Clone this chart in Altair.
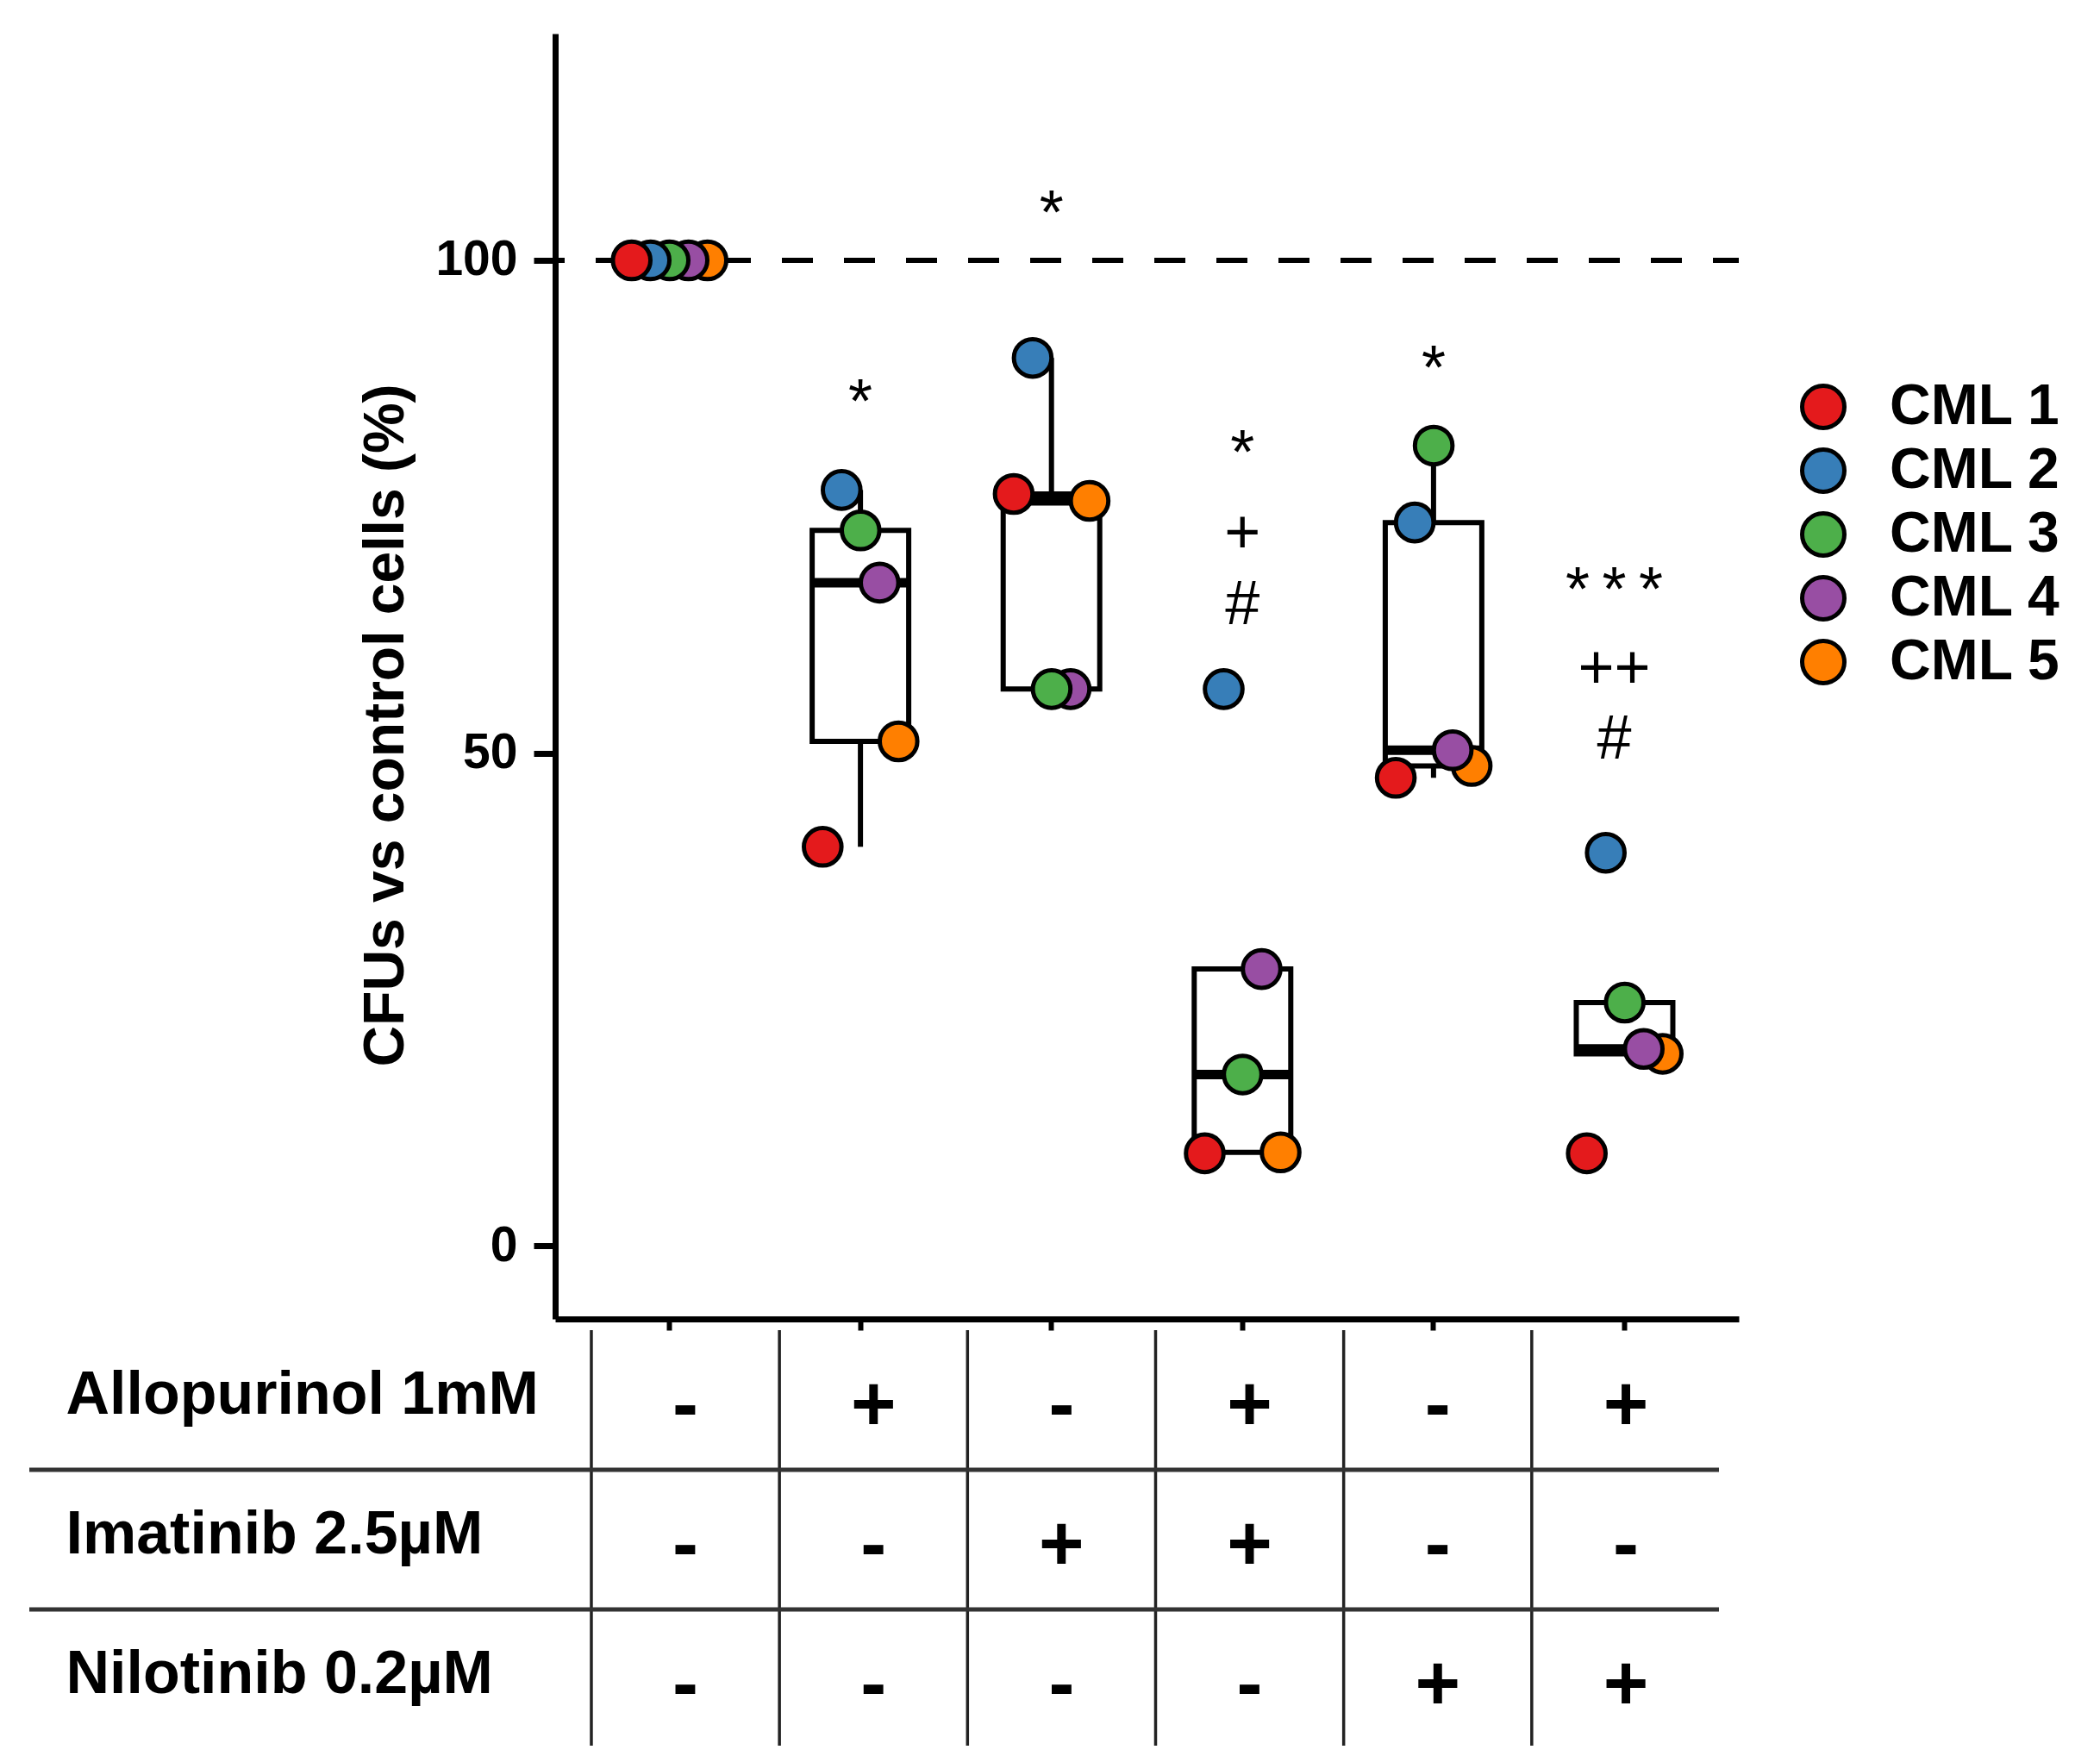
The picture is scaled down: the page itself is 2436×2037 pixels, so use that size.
import altair as alt
import pandas as pd

# ---------------- data ----------------
groups = ["Control", "Allopurinol", "Imatinib", "Allopurinol+Imatinib",
          "Nilotinib", "Allopurinol+Nilotinib"]
series = ["CML 1", "CML 2", "CML 3", "CML 4", "CML 5"]
colors = ["#E41A1C", "#377EB8", "#4DAF4A", "#984EA3", "#FF7F00"]

cml1 = [100, 40.5, 76.3, 9.4, 47.5, 9.4]
cml2 = [100, 76.7, 90.1, 56.5, 73.4, 39.9]
cml3 = [100, 72.6, 56.5, 17.4, 81.2, 24.7]
cml4 = [100, 67.3, 56.5, 28.1, 50.3, 20.0]
cml5 = [100, 51.2, 75.6, 9.5, 48.7, 19.5]

ref_line = [100]

annot_group = [groups[1], groups[2], groups[3], groups[3], groups[3],
               groups[4], groups[5], groups[5], groups[5]]
annot_text = ["*", "*", "*", "+", "#", "*", "*\u2009*\u2009*", "++", "#"]
annot_y = [85.5, 104.6, 80.3, 72.25, 65.05, 88.9, 66.4, 58.55, 51.35]

table_rows = ["Allopurinol 1mM", "Imatinib 2.5µM", "Nilotinib 0.2µM"]
allopurinol = ["-", "+", "-", "+", "-", "+"]
imatinib = ["-", "-", "+", "+", "-", "-"]
nilotinib = ["-", "-", "-", "-", "+", "+"]

# ---------------- tables ----------------
rows = []
for si, (s, vals) in enumerate(zip(series, [cml1, cml2, cml3, cml4, cml5])):
    for g, v in zip(groups, vals):
        rows.append({"group": g, "series": s, "rank": si, "value": v})
df = pd.DataFrame(rows)
ref_df = pd.DataFrame({"value": ref_line})
adf = pd.DataFrame({"group": annot_group, "text": annot_text, "value": annot_y})

trows = []
for r, signs in zip(table_rows, [allopurinol, imatinib, nilotinib]):
    for g, s in zip(groups, signs):
        trows.append({"row": r, "group": g, "sign": s})
tdf = pd.DataFrame(trows)

FONT = "Liberation Sans"

# ---------------- main plot ----------------
xenc = alt.X("group:N", sort=groups, title=None,
             scale=alt.Scale(paddingInner=0, paddingOuter=0.098),
             axis=alt.Axis(labels=False, ticks=True, tickSize=13, tickWidth=6,
                           tickColor="black", domainColor="black", domainWidth=7,
                           title=None, grid=False))
yenc = alt.Y("value:Q", title="CFUs vs control cells (%)",
             scale=alt.Scale(domain=[-7.4, 123], nice=False, zero=False),
             axis=alt.Axis(values=[0, 50, 100], tickSize=25, tickWidth=7,
                           tickColor="black", domainColor="black", domainWidth=7,
                           labelFontSize=57, labelFontWeight="bold",
                           labelColor="black", labelPadding=19,
                           titleFontSize=66, titleFontWeight="bold",
                           titleColor="black", titlePadding=23, titleY=802,
                           grid=False))

rule = alt.Chart(ref_df).mark_rule(
    color="black", strokeWidth=6, strokeDash=[36, 36], strokeDashOffset=6
).encode(y=yenc)

box = alt.Chart(df).mark_boxplot(
    extent=1.5, size=112, outliers=False, ticks=False,
    box={"fill": "white", "stroke": "black", "strokeWidth": 6, "opacity": 1},
    median={"color": "black", "thickness": 11, "opacity": 1},
    rule={"stroke": "black", "strokeWidth": 6, "opacity": 1},
).encode(x=xenc, y=yenc)

pts = alt.Chart(df).mark_circle(
    size=1900, opacity=1, stroke="black", strokeWidth=5
).encode(
    x=xenc, y=yenc,
    xOffset=alt.XOffset("series:N", sort=series,
                        scale=alt.Scale(type="point", range=[67, 155], padding=0)),
    color=alt.Color("series:N", sort=series,
                    scale=alt.Scale(domain=series, range=colors),
                    legend=alt.Legend(title=None, orient="none", legendX=1438, legendY=400,
                                      symbolType="circle", symbolSize=2400,
                                      symbolStrokeColor="black", symbolStrokeWidth=5,
                                      symbolOpacity=1, labelFontSize=66,
                                      labelFontWeight="bold", labelColor="black",
                                      labelLimit=500, labelOffset=44, rowPadding=4,
                                      padding=0)),
    order=alt.Order("rank:Q", sort="descending"),
)

txt_a = alt.Chart(adf).transform_filter(
    alt.datum.group != groups[5]
).mark_text(fontSize=72, baseline="middle", align="center", color="black").encode(
    x=xenc, y=yenc, text="text:N")
txt_b = alt.Chart(adf).transform_filter(
    alt.datum.group == groups[5]
).mark_text(fontSize=72, baseline="middle", align="center", color="black", dx=-12).encode(
    x=xenc, y=yenc, text="text:N")

top = alt.layer(rule, box, pts, txt_a, txt_b).properties(width=1373, height=1491)

# ---------------- treatment table ----------------
tx_scale = alt.Scale(paddingInner=0, paddingOuter=0.0962, align=1)
ty_scale = alt.Scale(paddingInner=0, paddingOuter=0, range=[0, 486])
ty_axis = alt.Axis(title=None, ticks=False, domain=False, labelAlign="left",
                   labelBaseline="middle", labelPadding=568, labelFontSize=70,
                   labelFontWeight="bold", labelLimit=0, labelOffset=-5,
                   labelColor="black", grid=False)

signs = alt.Chart(tdf).mark_text(fontSize=90, fontWeight="bold", dy=8, color="black").encode(
    x=alt.X("group:N", sort=groups, scale=tx_scale, axis=None),
    y=alt.Y("row:N", sort=table_rows, scale=ty_scale, axis=ty_axis),
    text="sign:N")

vlines = alt.Chart(pd.DataFrame({"group": groups})).mark_rule(
    color="#222222", strokeWidth=3.5
).encode(x=alt.X("group:N", sort=groups, bandPosition=0, scale=tx_scale, axis=None))

hlines = alt.Chart(pd.DataFrame({"row": table_rows[1:]})).mark_rule(
    color="#333333", strokeWidth=5
).encode(
    y=alt.Y("row:N", sort=table_rows, bandPosition=0, scale=ty_scale, axis=ty_axis),
    x=alt.value(-610), x2=alt.value(1350))

table = alt.layer(vlines, hlines, signs).properties(width=1351, height=482)

chart = alt.vconcat(top, table, spacing=13, bounds="flush").resolve_scale(
    x="independent", y="independent", color="independent"
).resolve_legend(color="independent").properties(
    padding={"left": 23, "top": 31, "right": 5, "bottom": 0}
).configure(font=FONT).configure_view(strokeWidth=0)

chart.save("out.html", embed_options={"renderer": "svg", "actions": False})
